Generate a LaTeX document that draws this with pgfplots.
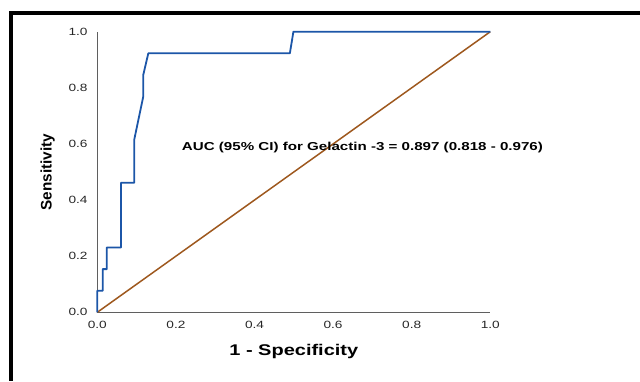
\documentclass[border=0pt]{standalone}
\usepackage{pgfplots}
\pgfplotsset{compat=1.18}
\usepackage{fontspec}
\setmainfont{Liberation Sans}
\definecolor{roc}{RGB}{28,86,168}
\definecolor{ref}{RGB}{158,88,30}
\definecolor{axgray}{RGB}{95,95,95}
\begin{document}
\begin{tikzpicture}[x=1pt,y=1pt]
\useasboundingbox (0,0) rectangle (640,381);
\fill[black] (9,0) rectangle (13,370);
\fill[black] (9,366) rectangle (640,370);
\begin{axis}[
  at={(97.3pt,68.7pt)}, anchor=origin,
  scale only axis, width=393pt, height=280.6pt,
  xmin=0, xmax=1, ymin=0, ymax=1,
  axis x line=bottom, axis y line=left,
  axis line style={-, draw=axgray, line width=0.9pt},
  major tick length=0pt,
  xtick={0,0.2,0.4,0.6,0.8,1}, ytick={0,0.2,0.4,0.6,0.8,1},
  xticklabels={0.0,0.2,0.4,0.6,0.8,1.0},
  yticklabels={0.0,0.2,0.4,0.6,0.8,1.0},
  tick label style={font=\fontsize{10.5}{12}\selectfont, text=black!85, xscale=1.3},
  xticklabel style={anchor=north, yshift=-5pt},
  yticklabel style={anchor=east, xshift=-4pt},
  xlabel={\textbf{1 - Specificity}},
  xlabel style={at={(axis description cs:0.5,-0.1557)}, anchor=base, font=\fontsize{15.5}{18}\selectfont, xscale=1.29},
  ylabel={\textbf{Sensitivity}},
  ylabel style={at={(axis description cs:-0.116,0.5)}, anchor=base, rotate=0, font=\fontsize{15.3}{18}\selectfont},
  clip=false,
]
\addplot[ref, line width=1.5pt] coordinates {(0,0) (1,1)};
\addplot[roc, line width=1.8pt, line join=round] coordinates {
 (0,0) (0,0.0769) (0.0137,0.0769) (0.0137,0.1538) (0.024,0.1538)
 (0.024,0.2308) (0.0603,0.2308) (0.0603,0.4615) (0.094,0.4615)
 (0.094,0.6154) (0.117,0.7692) (0.117,0.8462) (0.1298,0.9231)
 (0.490,0.9231) (0.499,1) (1,1)};
\node[anchor=base west, font=\bfseries\fontsize{11.5}{13}\selectfont, xscale=1.315, inner sep=0pt] at (axis cs:0.2148,0.5784) {AUC (95\% CI) for Gelactin -3 = 0.897 (0.818 - 0.976)};
\end{axis}
\end{tikzpicture}
\end{document}
